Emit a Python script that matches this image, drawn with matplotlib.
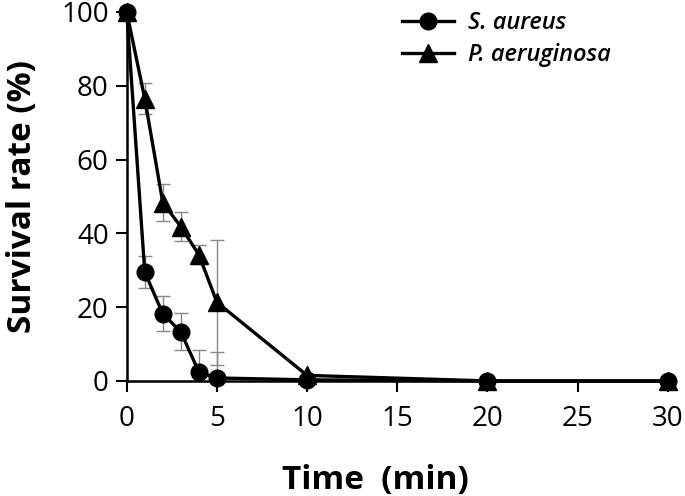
import matplotlib.pyplot as plt

plt.rcParams['font.family'] = ['Open Sans', 'DejaVu Sans']

time = [0, 1, 2, 3, 4, 5, 10, 20, 30]
s_aureus = [100, 29.5, 18.2, 13.3, 2.4, 0.8, 0.3, 0, 0]
s_aureus_err = [0, 4.3, 4.7, 5.0, 6.0, 7.0, 0, 0, 0]
p_aeruginosa = [100, 76.5, 48.3, 41.8, 34.2, 21.3, 1.5, 0, 0]
p_aeruginosa_err = [0, 4.2, 5.0, 4.0, 2.5, 17.0, 0, 0, 0]

fig = plt.figure(figsize=(6.85, 4.96), dpi=100)
ax = fig.add_axes([0.185, 0.232, 0.79, 0.744])

# gray error bars, clipped at the axes
ax.errorbar(time, s_aureus, yerr=s_aureus_err, fmt='none', ecolor='#888888',
            elinewidth=1, capsize=5, capthick=1)
ax.errorbar(time, p_aeruginosa, yerr=p_aeruginosa_err, fmt='none', ecolor='#888888',
            elinewidth=1, capsize=5, capthick=1)
ax.plot(time, s_aureus, color='black', lw=2.4, marker='o', ms=12,
        label='S. aureus', clip_on=False, zorder=3)
ax.plot(time, p_aeruginosa, color='black', lw=2.4, marker='^', ms=13,
        label='P. aeruginosa', clip_on=False, zorder=3)

ax.set_xlim(0, 30)
ax.set_ylim(0, 100)
ax.set_xticks(range(0, 31, 5))
ax.set_yticks(range(0, 101, 20))
ax.spines['top'].set_visible(False)
ax.spines['right'].set_visible(False)
for s in ('left', 'bottom'):
    ax.spines[s].set_linewidth(1.8)
ax.tick_params(width=1.5, length=8, labelsize=20)
ax.tick_params(axis='x', pad=9)
ax.tick_params(axis='y', pad=5)

ax.set_xlabel('Time  (min)', fontsize=24, fontweight='bold')
ax.xaxis.set_label_coords(0.46, -0.225)
ax.set_ylabel('Survival rate (%)', fontsize=24, fontweight='bold')
ax.yaxis.set_label_coords(-0.162, 0.5)

leg = ax.legend(loc='upper left', bbox_to_anchor=(0.47, 1.06), frameon=False,
                prop={'style': 'italic', 'size': 17, 'weight': 'semibold'},
                handlelength=2.2, handletextpad=0.6, labelspacing=0.35)

fig.savefig('out.png', dpi=100)
